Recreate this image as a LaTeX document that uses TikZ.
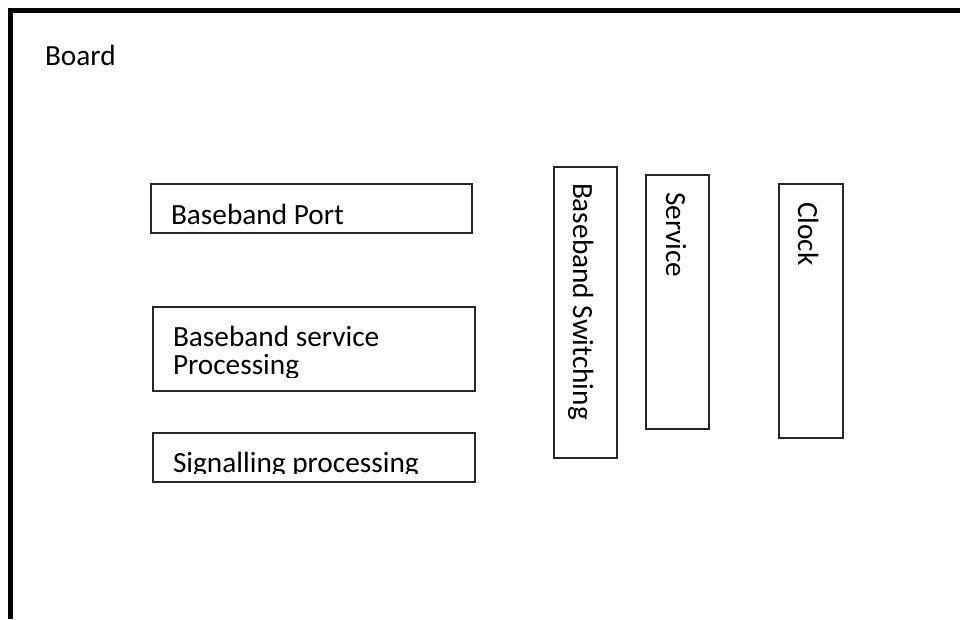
\documentclass[tikz,border=0pt]{standalone}
\usepackage{fontspec}
\setmainfont{Carlito}
\begin{document}
\begin{tikzpicture}[x=1pt,y=-1pt,
  box/.style={draw=black!85,line width=1.1pt,rectangle,inner sep=0pt},
  lbl/.style={inner sep=0pt,outer sep=0pt,anchor=base west,font=\fontsize{29.3}{27.7}\selectfont},
  vlbl/.style={lbl,rotate=-90}]
\useasboundingbox (0,0) rectangle (960,619);
\fill[white] (0,0) rectangle (960,619);
% outer frame
\coordinate (fbl) at (10.5,619);
\coordinate (ftl) at (10.5,10.5);
\coordinate (ftr) at (960,10.5);
\draw[line width=5pt,miter limit=10] (fbl) -- (ftl) -- (ftr);
\node[lbl] (board) at (45,65) {Board};
% horizontal boxes
\node[box,minimum width=321pt,minimum height=49pt] (port) at (311.5,208.5) {};
\node[lbl] (portt) at (171,224.3) {Baseband Port};
\node[box,minimum width=322pt,minimum height=84pt] (bsp) at (314,349) {};
\begin{scope}
\clip (150,300) rectangle (480,377.3);
\node[lbl] (bspt1) at (173,346.7) {Baseband service};
\node[lbl] (bspt2) at (173,374.4) {Processing};
\end{scope}
\node[box,minimum width=322pt,minimum height=49pt] (sig) at (314,457.5) {};
\begin{scope}
\clip (150,430) rectangle (480,473.3);
\node[lbl] (sigt) at (173,472.7) {Signalling processing};
\end{scope}
% vertical boxes
\node[box,minimum width=63pt,minimum height=291pt] (sw) at (585.5,312.5) {};
\node[vlbl] (swt) at (573,183) {Baseband Switching};
\node[box,minimum width=63pt,minimum height=254pt] (svc) at (677.5,302) {};
\node[vlbl] (svct) at (666,192) {Service};
\node[box,minimum width=64pt,minimum height=254pt] (clk) at (811,311) {};
\node[vlbl] (clkt) at (798,202) {Clock};
\end{tikzpicture}
\end{document}
